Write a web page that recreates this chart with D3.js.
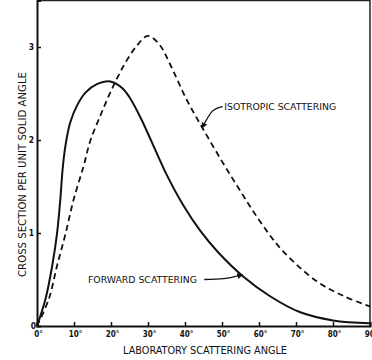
<!DOCTYPE html>
<html>
<head>
<meta charset="utf-8">
<script src="https://cdn.jsdelivr.net/npm/d3@7"></script>
<style>
  body { margin: 0; background: #fff; }
  text { font-family: "DejaVu Sans Condensed", "DejaVu Sans", sans-serif; fill: #111; }
</style>
</head>
<body>
<div id="chart"></div>
<script>
// forward scattering (solid)
const forwardAngles = [0, 2.3, 4.1, 5.4, 6.3, 7.0, 7.9, 9.0, 10.8, 13.1, 16.2, 19.8, 23, 25, 28, 31, 35, 39.5, 44, 49, 55.8, 63, 71, 80, 90];
const forwardValues = [0, 0.29, 0.645, 0.99, 1.36, 1.72, 1.99, 2.19, 2.37, 2.51, 2.60, 2.63, 2.56, 2.46, 2.24, 1.98, 1.63, 1.30, 1.03, 0.79, 0.53, 0.32, 0.15, 0.06, 0.03];

// isotropic scattering (dashed)
const isoAngles = [0, 3.2, 5.4, 7.7, 9.9, 12.6, 14.4, 17.1, 19.8, 23.3, 26.9, 30, 33.2, 35.9, 40.5, 45, 50, 54.2, 58, 62.5, 66.6, 75.6, 83, 90];
const isoValues = [0, 0.29, 0.645, 0.99, 1.36, 1.72, 1.99, 2.26, 2.51, 2.79, 3.01, 3.12, 3.02, 2.82, 2.43, 2.11, 1.77, 1.5, 1.26, 1.0, 0.8, 0.48, 0.32, 0.21];

const xTicks = [0, 10, 20, 30, 40, 50, 60, 70, 80, 90];
const yTicks = [0, 1, 2, 3];

const width = 372;
const height = 360;

const x = d3.scaleLinear().domain([0, 90]).range([37, 370]);
const y = d3.scaleLinear().domain([0, 3.5]).range([326, 0.5]);

const svg = d3.select('#chart')
  .append('svg')
  .attr('width', width)
  .attr('height', height)
  .style('background-color', '#fff');

// frame: top and right edges
svg.append('path')
  .attr('d', `M${x(0)},${y(3.5)}H${x(90)}V${y(0)}`)
  .attr('fill', 'none')
  .attr('stroke', '#222')
  .attr('stroke-width', 1.5);

// axes with inward ticks
const xAxis = svg.append('g')
  .attr('transform', `translate(0,${y(0)})`)
  .call(d3.axisTop(x).tickValues(xTicks).tickSize(4).tickFormat(''));
const yAxis = svg.append('g')
  .attr('transform', `translate(${x(0)},0)`)
  .call(d3.axisRight(y).tickValues(yTicks.slice(1)).tickSize(4).tickFormat(''));

[xAxis, yAxis].forEach(g => {
  g.select('.domain').attr('stroke', '#111').attr('stroke-width', 2);
  g.selectAll('.tick line').attr('stroke', '#111').attr('stroke-width', 1.5);
});

svg.selectAll('.xlab')
  .data(xTicks)
  .join('text')
  .attr('class', 'xlab')
  .attr('x', d => x(d) + 1.5)
  .attr('y', 337)
  .attr('text-anchor', 'middle')
  .style('font-size', '8px')
  .style('font-weight', 'bold')
  .text(d => d + '°');

svg.selectAll('.ylab')
  .data(yTicks)
  .join('text')
  .attr('class', 'ylab')
  .attr('x', d => d === 0 ? 36 : 34)
  .attr('y', d => y(d) + 3)
  .attr('text-anchor', 'end')
  .style('font-size', '8.5px')
  .style('font-weight', 'bold')
  .text(d => d);

// axis titles
svg.append('text')
  .attr('x', 205)
  .attr('y', 354)
  .attr('text-anchor', 'middle')
  .attr('textLength', 164)
  .attr('lengthAdjust', 'spacingAndGlyphs')
  .style('font-size', '11px')
  .text('LABORATORY SCATTERING ANGLE');

svg.append('text')
  .attr('transform', 'translate(25.5,174.5) rotate(-90)')
  .attr('text-anchor', 'middle')
  .attr('textLength', 205)
  .attr('lengthAdjust', 'spacingAndGlyphs')
  .style('font-size', '10.5px')
  .text('CROSS SECTION PER UNIT SOLID ANGLE');

// curves
const line = d3.line()
  .x(d => x(d[0]))
  .y(d => y(d[1]))
  .curve(d3.curveCatmullRom.alpha(0.5));

svg.append('path')
  .datum(d3.zip(forwardAngles, forwardValues))
  .attr('d', line)
  .attr('fill', 'none')
  .attr('stroke', '#111')
  .attr('stroke-width', 2);

svg.append('path')
  .datum(d3.zip(isoAngles, isoValues))
  .attr('d', line)
  .attr('fill', 'none')
  .attr('stroke', '#111')
  .attr('stroke-width', 1.8)
  .attr('stroke-dasharray', '6,4');

// annotations
svg.append('defs').append('marker')
  .attr('id', 'head')
  .attr('viewBox', '0 0 10 10')
  .attr('refX', 9).attr('refY', 5)
  .attr('markerWidth', 6).attr('markerHeight', 6)
  .attr('markerUnits', 'userSpaceOnUse')
  .attr('orient', 'auto')
  .append('path')
  .attr('d', 'M0,0L10,5L0,10Z')
  .attr('fill', '#111');

const arrow = d3.line()
  .x(d => x(d[0]))
  .y(d => y(d[1]))
  .curve(d3.curveNatural);

svg.append('path')
  .datum([[50.2, 2.36], [47.4, 2.31], [44.6, 2.13]])
  .attr('d', arrow)
  .attr('fill', 'none')
  .attr('stroke', '#111')
  .attr('stroke-width', 1.3)
  .attr('marker-end', 'url(#head)');

svg.append('text')
  .attr('x', x(50.6))
  .attr('y', 109.5)
  .attr('textLength', 112)
  .attr('lengthAdjust', 'spacingAndGlyphs')
  .style('font-size', '8.5px')
  .text('ISOTROPIC SCATTERING');

svg.append('path')
  .datum([[45.2, 0.5], [50.5, 0.51], [55.6, 0.55]])
  .attr('d', arrow)
  .attr('fill', 'none')
  .attr('stroke', '#111')
  .attr('stroke-width', 1.3)
  .attr('marker-end', 'url(#head)');

svg.append('text')
  .attr('x', 88)
  .attr('y', 283)
  .attr('textLength', 109)
  .attr('lengthAdjust', 'spacingAndGlyphs')
  .style('font-size', '8.5px')
  .text('FORWARD SCATTERING');
</script>
</body>
</html>
